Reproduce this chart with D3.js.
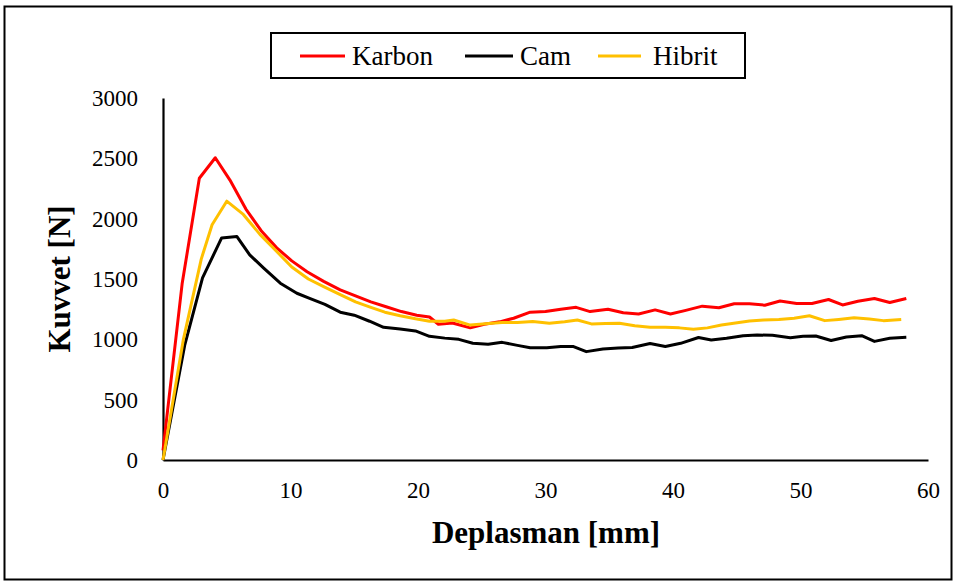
<!DOCTYPE html>
<html>
<head>
<meta charset="utf-8">
<script src="https://cdn.jsdelivr.net/npm/d3@7"></script>
<style>
  html, body { margin: 0; padding: 0; background: #fff; }
  svg { display: block; }
  svg text { font-family: 'Liberation Serif', 'Times New Roman', serif; }
</style>
</head>
<body>
<svg id="chart" width="958" height="585"></svg>
<script>
// ---- data ----
const seriesNames = ["Karbon", "Cam", "Hibrit"];
const seriesColors = ["#ff0000", "#000000", "#ffc000"];

const karbonX = [0, 1.5, 2.85, 4.1, 5.25, 6.5, 7.7, 8.9, 10.1, 11.3, 12.6, 13.9, 15.1, 16.3, 17.5, 18.7, 19.9, 20.9, 21.6, 22.7, 24.1, 25.2, 26.4, 27.5, 28.8, 30.0, 31.2, 32.4, 33.5, 34.9, 36.1, 37.3, 38.6, 39.8, 41.0, 42.3, 43.6, 44.8, 46.0, 47.2, 48.4, 49.7, 50.9, 52.2, 53.3, 54.5, 55.8, 57.0, 58.3];
const karbonY = [80, 1460, 2335, 2505, 2320, 2080, 1900, 1760, 1650, 1560, 1480, 1410, 1360, 1310, 1270, 1230, 1200, 1185, 1125, 1135, 1095, 1125, 1145, 1175, 1225, 1230, 1250, 1265, 1230, 1250, 1220, 1210, 1244, 1210, 1240, 1275, 1262, 1295, 1295, 1283, 1318, 1297, 1297, 1330, 1285, 1315, 1338, 1305, 1338];

const camX = [0, 1.7, 3.1, 4.6, 5.8, 6.8, 7.9, 9.2, 10.5, 11.5, 12.7, 13.9, 15.0, 16.2, 17.3, 18.6, 19.8, 20.9, 22.1, 23.2, 24.3, 25.5, 26.6, 27.8, 28.8, 30.1, 31.2, 32.2, 33.2, 34.5, 35.7, 36.8, 38.2, 39.4, 40.6, 42.0, 43.0, 44.2, 45.5, 46.6, 47.8, 49.2, 50.2, 51.2, 52.4, 53.6, 54.8, 55.8, 57.0, 58.3];
const camY = [0, 950, 1510, 1840, 1852, 1700, 1590, 1465, 1382, 1340, 1290, 1225, 1200, 1150, 1100, 1085, 1070, 1025, 1010, 1000, 968, 960, 975, 950, 930, 930, 940, 940, 898, 920, 928, 932, 965, 940, 967, 1015, 995, 1009, 1030, 1036, 1033, 1014, 1025, 1028, 990, 1020, 1030, 983, 1009, 1017];

const hibritX = [0, 1.6, 3.0, 3.85, 5.0, 6.3, 7.6, 8.9, 10.1, 11.4, 12.6, 13.9, 15.1, 16.3, 17.4, 18.6, 19.8, 20.9, 22.1, 22.8, 24.1, 25.3, 26.6, 27.8, 29.0, 30.3, 31.5, 32.5, 33.6, 34.7, 35.8, 37.0, 38.2, 39.4, 40.5, 41.6, 42.7, 43.8, 44.9, 46.0, 47.1, 48.3, 49.5, 50.7, 51.9, 53.0, 54.2, 55.4, 56.5, 57.9];
const hibritY = [0, 1000, 1665, 1950, 2145, 2035, 1870, 1730, 1600, 1500, 1437, 1370, 1310, 1265, 1225, 1195, 1170, 1150, 1150, 1160, 1118, 1130, 1140, 1140, 1147, 1133, 1145, 1160, 1128, 1132, 1133, 1112, 1100, 1100, 1095, 1083, 1095, 1119, 1135, 1152, 1160, 1165, 1175, 1195, 1155, 1165, 1178, 1168, 1155, 1165];

const xTicks = [0, 10, 20, 30, 40, 50, 60];
const yTicks = [0, 500, 1000, 1500, 2000, 2500, 3000];

const xLabel = "Deplasman [mm]";
const yLabel = "Kuvvet [N]";

// ---- drawing ----
const svg = d3.select("#chart");
const font = "'Liberation Serif', 'Times New Roman', serif";

// outer border
svg.append("rect")
  .attr("x", 4.5).attr("y", 6.5).attr("width", 947).attr("height", 573)
  .attr("fill", "#fff").attr("stroke", "#000").attr("stroke-width", 2);

const x = d3.scaleLinear().domain([0, 60]).range([163, 928]);
const y = d3.scaleLinear().domain([0, 3000]).range([460, 98]);

// axes (no tick marks)
const xAxis = d3.axisBottom(x).tickValues(xTicks).tickSize(0).tickPadding(22).tickFormat(d3.format("d"));
const yAxis = d3.axisLeft(y).tickValues(yTicks).tickSize(0).tickPadding(25).tickFormat(d3.format("d"));

const gx = svg.append("g").attr("transform", `translate(0,${y(0)})`).call(xAxis);
const gy = svg.append("g").attr("transform", `translate(${x(0)},0)`).call(yAxis);
[gx, gy].forEach(g => {
  g.attr("font-family", font).attr("font-size", 23);
  g.select(".domain").attr("stroke", "#000").attr("stroke-width", 2.2);
  g.selectAll("text").style("font-family", font).attr("font-size", 23).attr("fill", "#000");
});

// series
const series = [
  { name: seriesNames[0], color: seriesColors[0], xs: karbonX, ys: karbonY },
  { name: seriesNames[1], color: seriesColors[1], xs: camX, ys: camY },
  { name: seriesNames[2], color: seriesColors[2], xs: hibritX, ys: hibritY }
];

const line = d3.line().x(d => x(d[0])).y(d => y(d[1]));
series.forEach(s => {
  const pts = s.xs.map((v, i) => [v, s.ys[i]]);
  svg.append("path")
    .datum(pts)
    .attr("d", line)
    .attr("fill", "none")
    .attr("stroke", s.color)
    .attr("stroke-width", 3)
    .attr("stroke-linejoin", "round");
});

// axis titles
svg.append("text")
  .attr("x", 546).attr("y", 543)
  .attr("text-anchor", "middle")
  .style("font-family", font).attr("font-weight", "bold").attr("font-size", 31)
  .text(xLabel);

svg.append("text")
  .attr("transform", "translate(70,279) rotate(-90)")
  .attr("text-anchor", "middle")
  .style("font-family", font).attr("font-weight", "bold").attr("font-size", 31)
  .text(yLabel);

// legend
const legend = svg.append("g");
legend.append("rect")
  .attr("x", 271).attr("y", 33).attr("width", 474).attr("height", 45)
  .attr("fill", "#fff").attr("stroke", "#000").attr("stroke-width", 2);

const legendLine = [[300, 345], [465, 513], [598, 641]];
const legendText = [352, 520, 653];
series.forEach((s, i) => {
  legend.append("line")
    .attr("x1", legendLine[i][0]).attr("x2", legendLine[i][1]).attr("y1", 56).attr("y2", 56)
    .attr("stroke", s.color).attr("stroke-width", 3);
  legend.append("text")
    .attr("x", legendText[i]).attr("y", 65)
    .style("font-family", font).attr("font-size", 27).attr("fill", "#000")
    .text(s.name);
});
</script>
</body>
</html>
